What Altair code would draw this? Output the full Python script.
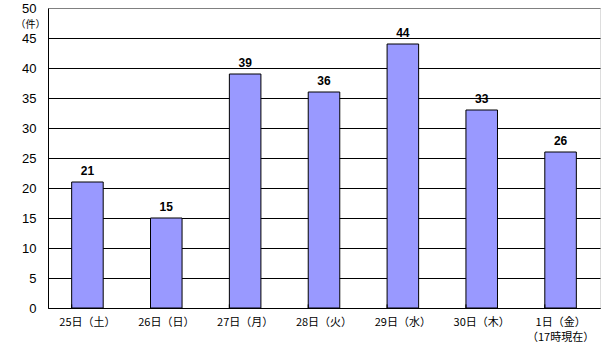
import altair as alt
import pandas as pd

categories = ["25日（土）", "26日（日）", "27日（月）", "28日（火）", "29日（水）", "30日（木）", "1日（金）\n（17時現在）"]
values = [21, 15, 39, 36, 44, 33, 26]
yticks = [0, 5, 10, 15, 20, 25, 30, 35, 40, 45, 50]

df = pd.DataFrame({"cat": categories, "val": values})
FONT = "Noto Sans CJK JP"

xscale = alt.Scale(paddingInner=0.6, paddingOuter=0.3)
xaxis = alt.Axis(title=None, labelAngle=0, labelFontSize=11, labelColor="black",
                 labelFont=FONT, labelPadding=8, ticks=False, domainColor="black",
                 labelExpr="split(datum.label, '\\n')", labelLineHeight=15)
xenc = alt.X("cat:N", sort=None, scale=xscale, axis=xaxis)

yscale = alt.Scale(domain=[0, 50], nice=False)
yaxis = alt.Axis(values=yticks, tickCount=11, title="（件）", titleAngle=0,
                 titleFontSize=10, titleFontWeight="normal", titleFont=FONT,
                 titleX=-18, titleY=16, titleAlign="center", titleBaseline="middle",
                 titleColor="black", labelOverlap=False,
                 labelFontSize=13, labelColor="black", labelFont="Liberation Sans",
                 labelPadding=12, ticks=False, domainColor="black",
                 gridColor=alt.condition("datum.value == 50", alt.value("#808080"), alt.value("black")),
                 gridOpacity=1)

yenc = alt.Y("val:Q", scale=yscale, axis=yaxis)

bars = alt.Chart(df).mark_bar(color="#9999FF", stroke="black", strokeWidth=1).encode(x=xenc, y=yenc)

text = alt.Chart(df).mark_text(fontWeight="bold", fontSize=12, dy=-11, font="Liberation Sans", color="black").encode(
    x=xenc, y=yenc, text="val:Q")

ticks = alt.Chart(df).mark_rule(color="black", strokeWidth=1).encode(
    x=alt.X("cat:N", sort=None, bandPosition=0, scale=xscale, axis=xaxis),
    y=alt.Y(datum=0, scale=yscale, axis=yaxis), y2=alt.datum(0.6))

chart = alt.layer(bars, ticks, text).properties(
    width=552, height=300,
    autosize=alt.AutoSizeParams(type="none"),
    padding={"left": 48, "top": 8, "right": 7, "bottom": 42},
).configure_view(stroke="#808080", strokeWidth=1).configure(background="white")

chart.save("out.html", embed_options={"renderer": "svg", "actions": False})
